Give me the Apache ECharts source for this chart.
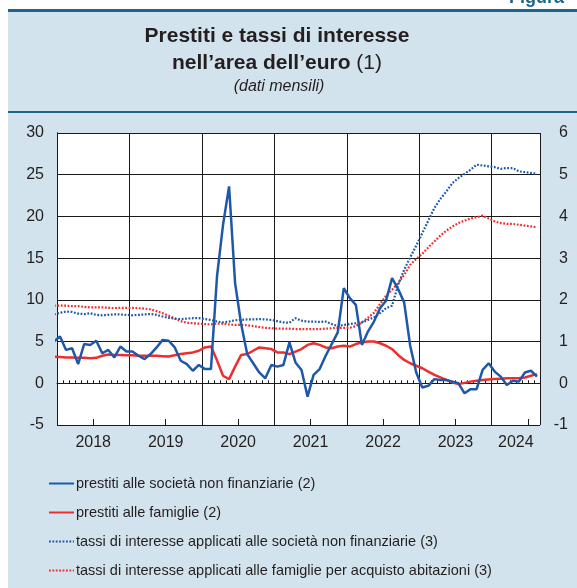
<!DOCTYPE html>
<html><head><meta charset="utf-8">
<script src="https://cdn.jsdelivr.net/npm/echarts@6/dist/echarts.min.js"></script>
<style>html,body{margin:0;padding:0;background:#fff}#c{width:577px;height:588px}</style>
</head><body><div id="c"></div>
<script>
// first observation: December 2017, then monthly through August 2024
const firstMonth = [2017, 12];
const yearLabels = ['2018', '2019', '2020', '2021', '2022', '2023', '2024'];

// prestiti alle società non finanziarie (left axis, %)
const loansNFC = [5.0,
  5.6, 4.0, 4.2, 2.3, 4.7, 4.6, 5.1, 3.6, 4.0, 3.1, 4.4, 3.8,
  3.8, 3.3, 2.9, 3.5, 4.3, 5.2, 5.1, 4.3, 2.7, 2.3, 1.5, 2.2,
  1.7, 1.7, 12.8, 19.0, 23.6, 12.0, 7.1, 3.5, 2.4, 1.3, 0.6, 2.2,
  2.0, 2.2, 4.9, 2.5, 1.6, -1.6, 1.0, 1.7, 3.3, 4.7, 6.1, 11.4,
  10.2, 9.4, 4.6, 6.2, 7.4, 9.0, 9.9, 12.6, 11.3, 9.7, 4.5, 1.3,
  -0.5, -0.3, 0.5, 0.4, 0.4, 0.2, 0.0, -1.2, -0.7, -0.7, 1.6, 2.4,
  1.4, 0.8, -0.2, 0.3, 0.2, 1.3, 1.5, 0.8];

// prestiti alle famiglie (left axis, %)
const loansHH = [3.2,
  3.15, 3.1, 3.1, 3.05, 3.05, 3.0, 3.05, 3.3, 3.45, 3.4, 3.4, 3.35,
  3.35, 3.3, 3.3, 3.3, 3.3, 3.25, 3.2, 3.35, 3.5, 3.6, 3.7, 3.9,
  4.3, 4.4, 2.75, 0.9, 0.5, 2.0, 3.4, 3.5, 3.9, 4.3, 4.2, 4.1,
  3.7, 3.7, 3.5, 3.8, 4.1, 4.6, 4.8, 4.6, 4.3, 4.2, 4.4, 4.5,
  4.4, 4.7, 4.9, 5.0, 5.0, 4.8, 4.5, 4.1, 3.4, 2.8, 2.4, 2.1,
  1.8, 1.4, 1.0, 0.7, 0.4, 0.1, -0.1, 0.05, 0.2, 0.3, 0.4, 0.45,
  0.5, 0.55, 0.6, 0.6, 0.6, 0.7, 0.9, 1.1];

// tassi di interesse applicati alle società non finanziarie (right axis, %)
const rateNFC = [1.65,
  1.69, 1.72, 1.71, 1.67, 1.66, 1.68, 1.64, 1.63, 1.64, 1.65, 1.65, 1.64,
  1.63, 1.64, 1.65, 1.66, 1.64, 1.60, 1.57, 1.55, 1.54, 1.55, 1.56, 1.56,
  1.54, 1.52, 1.48, 1.46, 1.48, 1.51, 1.52, 1.53, 1.53, 1.54, 1.53, 1.52,
  1.49, 1.46, 1.45, 1.56, 1.50, 1.48, 1.48, 1.47, 1.48, 1.42, 1.37, 1.40,
  1.42, 1.44, 1.46, 1.52, 1.58, 1.68, 1.80, 1.86, 2.36, 2.72, 3.02, 3.30,
  3.60, 3.90, 4.20, 4.42, 4.60, 4.80, 4.92, 5.02, 5.12, 5.24, 5.22, 5.20,
  5.18, 5.14, 5.16, 5.16, 5.08, 5.06, 5.04, 5.02];

// tassi di interesse applicati alle famiglie per acquisto abitazioni (right axis, %)
const rateHH = [1.86,
  1.86, 1.86, 1.85, 1.85, 1.83, 1.82, 1.82, 1.82, 1.81, 1.80, 1.81, 1.81,
  1.81, 1.80, 1.79, 1.77, 1.73, 1.68, 1.62, 1.55, 1.49, 1.45, 1.44, 1.43,
  1.42, 1.41, 1.43, 1.43, 1.41, 1.40, 1.40, 1.39, 1.37, 1.35, 1.33, 1.32,
  1.31, 1.31, 1.31, 1.30, 1.30, 1.30, 1.30, 1.30, 1.31, 1.32, 1.33, 1.33,
  1.33, 1.37, 1.46, 1.57, 1.69, 1.90, 2.10, 2.24, 2.40, 2.60, 2.84, 2.98,
  3.10, 3.26, 3.40, 3.54, 3.66, 3.76, 3.84, 3.90, 3.95, 3.98, 4.02, 3.95,
  3.88, 3.84, 3.82, 3.82, 3.80, 3.78, 3.76, 3.74];

const seriesNames = [
  'prestiti alle società non finanziarie (2)',
  'prestiti alle famiglie (2)',
  'tassi di interesse applicati alle società non finanziarie (3)',
  'tassi di interesse applicati alle famiglie per acquisto abitazioni (3)'
];

// month labels
const months = loansNFC.map((_, i) => {
  const t = firstMonth[0] * 12 + (firstMonth[1] - 1) + i;
  return Math.floor(t / 12) + '-' + String(t % 12 + 1).padStart(2, '0');
});
const baseYear = Number(yearLabels[0]);
function xPos(label) {           // mid-month position, months since Jan of base year
  const [y, m] = label.split('-').map(Number);
  return (y - baseYear) * 12 + (m - 1) + 0.5;
}
const pairs = arr => arr.map((v, i) => [xPos(months[i]), v]);
const xMax = xPos(months[months.length - 1]) + 0.5;
const monthTicks = [];
for (let k = 1; k < xMax; k++) monthTicks.push(k);
const midYearTicks = yearLabels.map((_, i) => i * 12 + 6).filter(v => v < xMax);
const yearLabelPos = yearLabels.map((_, i) => (i * 12 + Math.min(i * 12 + 12, xMax)) / 2);

const FONT = "'Liberation Sans', Arial, Helvetica, sans-serif";
const TXT = '#231f20';
const BLUE = '#1f58a8';
const RED = '#ee2e2e';
const GRID = '#1a1a1a';

const chart = echarts.init(document.getElementById('c'), null, {renderer: 'canvas'});
chart.setOption({
  animation: false,
  textStyle: {fontFamily: FONT},
  graphic: [
    {type: 'rect', shape: {x: 8, y: 9, width: 569, height: 579}, style: {fill: '#d2e3ed'}, z: -100, silent: true},
    {type: 'rect', shape: {x: 8, y: 9, width: 569, height: 3}, style: {fill: '#1c6489'}, z: -99, silent: true},
    {type: 'rect', shape: {x: 8, y: 111, width: 569, height: 2}, style: {fill: '#1c6489'}, z: -99, silent: true},
    {type: 'text', x: 509, y: -11, style: {text: 'Figura', font: 'bold 18px ' + FONT, fill: '#1c6489'}, silent: true}
  ],
  title: [
    {text: 'Prestiti e tassi di interesse', left: 277, top: 26, padding: 0, textAlign: 'center',
     textStyle: {fontSize: 21, fontWeight: 'bold', color: TXT, fontFamily: FONT}},
    {text: '{b|nell’area dell’euro} {n|(1)}', left: 277, top: 52.5, padding: 0, textAlign: 'center',
     textStyle: {fontSize: 21, color: TXT, fontFamily: FONT,
       rich: {b: {fontSize: 21, fontWeight: 'bold', color: TXT, fontFamily: FONT},
              n: {fontSize: 21, fontWeight: 'normal', color: TXT, fontFamily: FONT}}}},
    {text: '(dati mensili)', left: 279, top: 79, padding: 0, textAlign: 'center',
     textStyle: {fontSize: 16, fontStyle: 'italic', fontWeight: 'normal', color: TXT, fontFamily: FONT}}
  ],
  grid: {left: 57, right: 37, top: 133, bottom: 163, show: true, backgroundColor: '#ffffff', borderWidth: 0},
  legend: {
    orient: 'vertical', left: 48, top: 476, padding: 0, height: 112,
    itemWidth: 25, itemHeight: 14, itemGap: 14,
    data: seriesNames,
    itemStyle: {opacity: 0},
    textStyle: {fontSize: 14.5, color: TXT, fontFamily: FONT, padding: [0, 0, 0, -3]}
  },
  xAxis: [
    {type: 'value', min: 0, max: xMax, interval: 12, position: 'bottom',
     axisLine: {show: true, lineStyle: {color: GRID, width: 1}},
     axisTick: {show: false},
     axisLabel: {show: false},
     splitLine: {show: true, lineStyle: {color: GRID, width: 1}}},
    {type: 'value', min: 0, max: xMax, position: 'bottom',
     axisLine: {show: false},
     axisTick: {show: true, inside: true, length: 3, customValues: monthTicks, lineStyle: {color: GRID, width: 1}},
     axisLabel: {show: false},
     splitLine: {show: false}},
    {type: 'value', min: 0, max: xMax, position: 'bottom',
     axisLine: {show: false},
     axisTick: {show: true, inside: true, length: 6, customValues: midYearTicks, lineStyle: {color: GRID, width: 1}},
     axisLabel: {show: true, customValues: yearLabelPos, margin: 10, fontSize: 16, color: TXT, fontFamily: FONT,
       formatter: v => yearLabels[Math.floor(v / 12)]},
     splitLine: {show: false}}
  ],
  yAxis: [
    {type: 'value', min: -5, max: 30, interval: 5, position: 'left',
     axisLine: {show: true, lineStyle: {color: GRID, width: 1}},
     axisTick: {show: false},
     axisLabel: {fontSize: 16, color: TXT, margin: 13, fontFamily: FONT},
     splitLine: {show: true, lineStyle: {color: GRID, width: 1}}},
    {type: 'value', min: -1, max: 6, interval: 1, position: 'right',
     axisLine: {show: true, lineStyle: {color: GRID, width: 1}},
     axisTick: {show: false},
     axisLabel: {fontSize: 16, color: TXT, margin: 28, align: 'right', fontFamily: FONT},
     splitLine: {show: false}}
  ],
  series: [
    {name: seriesNames[3], type: 'line', xAxisIndex: 0, yAxisIndex: 1, data: pairs(rateHH), symbol: 'none', showSymbol: false,
     lineStyle: {color: RED, width: 2.2, type: [1.8, 1.6]}, itemStyle: {color: RED}, z: 2},
    {name: seriesNames[2], type: 'line', xAxisIndex: 0, yAxisIndex: 1, data: pairs(rateNFC), symbol: 'none', showSymbol: false,
     lineStyle: {color: BLUE, width: 2.2, type: [1.8, 1.6]}, itemStyle: {color: BLUE}, z: 3},
    {name: seriesNames[1], type: 'line', xAxisIndex: 0, yAxisIndex: 0, data: pairs(loansHH), symbol: 'none', showSymbol: false,
     lineStyle: {color: RED, width: 2.5}, itemStyle: {color: RED}, z: 4},
    {name: seriesNames[0], type: 'line', xAxisIndex: 0, yAxisIndex: 0, data: pairs(loansNFC), symbol: 'none', showSymbol: false,
     lineStyle: {color: BLUE, width: 2.5}, itemStyle: {color: BLUE}, z: 5}
  ]
});
</script></body></html>
